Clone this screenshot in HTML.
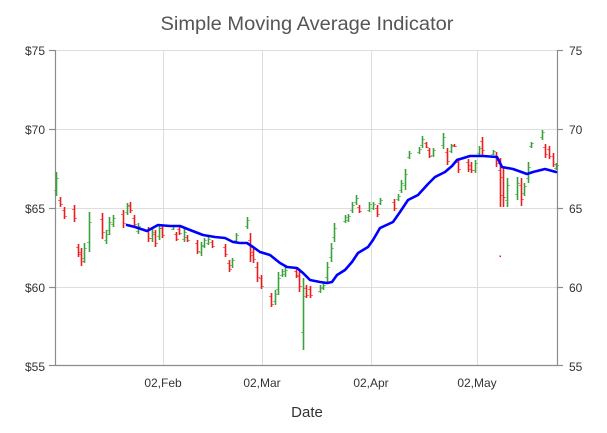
<!DOCTYPE html>
<html>
<head>
<meta charset="utf-8">
<style>
html,body{margin:0;padding:0;background:#fff;}
svg{display:block;}
text{font-family:"Liberation Sans",Arial,sans-serif;}
</style>
</head>
<body>
<svg width="607" height="433" viewBox="0 0 607 433" xmlns="http://www.w3.org/2000/svg">
<rect width="607" height="433" fill="#fff"/>
<text x="307" y="30" font-size="19" fill="#555" text-anchor="middle" textLength="293" lengthAdjust="spacingAndGlyphs">Simple Moving Average Indicator</text>

<g stroke="#dedede" stroke-width="1">
<line x1="56" y1="50.5" x2="557" y2="50.5"/>
<line x1="56" y1="129.5" x2="557" y2="129.5"/>
<line x1="56" y1="208.5" x2="557" y2="208.5"/>
<line x1="56" y1="287.5" x2="557" y2="287.5"/>
<line x1="163.5" y1="50" x2="163.5" y2="366"/>
<line x1="262.5" y1="50" x2="262.5" y2="366"/>
<line x1="371.5" y1="50" x2="371.5" y2="366"/>
<line x1="477.5" y1="50" x2="477.5" y2="366"/>
</g>

<g stroke="#8c8c8c" stroke-width="1.2">
<line x1="55.5" y1="50" x2="55.5" y2="366"/>
<line x1="557.5" y1="50" x2="557.5" y2="366"/>
<line x1="55" y1="365.5" x2="558" y2="365.5"/>
<line x1="49" y1="50.5" x2="55" y2="50.5"/>
<line x1="49" y1="129.5" x2="55" y2="129.5"/>
<line x1="49" y1="208.5" x2="55" y2="208.5"/>
<line x1="49" y1="287.5" x2="55" y2="287.5"/>
<line x1="49" y1="365.5" x2="55" y2="365.5"/>
<line x1="558" y1="50.5" x2="563" y2="50.5"/>
<line x1="558" y1="129.5" x2="563" y2="129.5"/>
<line x1="558" y1="208.5" x2="563" y2="208.5"/>
<line x1="558" y1="287.5" x2="563" y2="287.5"/>
<line x1="558" y1="365.5" x2="563" y2="365.5"/>
</g>

<g font-size="12" fill="#333" text-anchor="end">
<text x="45" y="55">$75</text>
<text x="45" y="134">$70</text>
<text x="45" y="213">$65</text>
<text x="45" y="292">$60</text>
<text x="45" y="371">$55</text>
</g>
<g font-size="12" fill="#333" text-anchor="start">
<text x="569" y="55">75</text>
<text x="569" y="134">70</text>
<text x="569" y="213">65</text>
<text x="569" y="292">60</text>
<text x="569" y="371">55</text>
</g>

<g font-size="12" fill="#333" text-anchor="middle">
<text x="163" y="387">02,Feb</text>
<text x="262" y="387">02,Mar</text>
<text x="371" y="387">02,Apr</text>
<text x="477" y="387">02,May</text>
</g>
<text x="307" y="417" font-size="15" fill="#333" text-anchor="middle">Date</text>

<!-- green bars -->
<path fill="none" stroke="#3aa23a" stroke-width="1.6" d="M56.5 172V196M84.5 243V263M89.5 212V252M106.5 230V244M109.5 217V235M113.5 215V227M127.5 203V215M138.5 223V234M152.5 228V242M159.5 224V240M173.5 225V230M184.5 229V242M201.5 242V256M204.5 238V248M208.5 237V245M232.5 258V268M236.5 233V242M247.5 217V229M275.5 290V305M278.5 272V295M282.5 269V277M285.5 267V277M303.5 278V350M320.5 285V293M323.5 283V290M327.5 262V282M331.5 243V262M334.5 223V242M345.5 215V223M348.5 214V222M352.5 202V213M356.5 195V205M369.5 202V212M373.5 202V210M380.5 198V205M398.5 194V201M401.5 180V193M405.5 169V190M409.5 151V159M419.5 147V154M422.5 136V148M433.5 148V157M443.5 133V149M451.5 144V153M475.5 160V173M479.5 146V155M493.5 150V155M507.5 178V207M517.5 177V200M524.5 183V196M528.5 162V183M531.5 142V148M542.5 130V140M556.5 163V170"/>
<path fill="none" stroke="#3aa23a" stroke-opacity="0.6" stroke-width="1" d="M54 190.5H56.5M56.5 178.5H59M82 258.5H84.5M84.5 248.5H87M87 242.5H89.5M89.5 222.5H92M104 240.5H106.5M106.5 234.5H109M107 230.5H109.5M109.5 222.5H112M111 224.5H113.5M113.5 218.5H116M125 212.5H127.5M127.5 206.5H130M136 231.5H138.5M138.5 226.5H141M150 238.5H152.5M152.5 232.5H155M157 236.5H159.5M159.5 228.5H162M171 229.5H173.5M173.5 226.5H176M182 239.5H184.5M184.5 232.5H187M199 252.5H201.5M201.5 246.5H204M202 245.5H204.5M204.5 240.5H207M206 243.5H208.5M208.5 239.5H211M230 265.5H232.5M232.5 260.5H235M234 240.5H236.5M236.5 235.5H239M245 226.5H247.5M247.5 220.5H250M273 301.5H275.5M275.5 294.5H278M276 289.5H278.5M278.5 278.5H281M280 275.5H282.5M282.5 271.5H285M283 274.5H285.5M285.5 270.5H288M301 332.5H303.5M303.5 296.5H306M318 291.5H320.5M320.5 287.5H323M321 288.5H323.5M323.5 285.5H326M325 277.5H327.5M327.5 267.5H330M329 257.5H331.5M331.5 248.5H334M332 237.5H334.5M334.5 228.5H337M343 221.5H345.5M345.5 217.5H348M346 220.5H348.5M348.5 216.5H351M350 210.5H352.5M352.5 205.5H355M354 202.5H356.5M356.5 198.5H359M367 210.5H369.5M369.5 204.5H372M371 208.5H373.5M373.5 204.5H376M378 203.5H380.5M380.5 200.5H383M396 199.5H398.5M398.5 196.5H401M399 190.5H401.5M401.5 183.5H404M403 185.5H405.5M405.5 174.5H408M407 157.5H409.5M409.5 153.5H412M417 152.5H419.5M419.5 149.5H422M420 145.5H422.5M422.5 139.5H425M431 155.5H433.5M433.5 150.5H436M441 145.5H443.5M443.5 137.5H446M449 151.5H451.5M451.5 146.5H454M473 170.5H475.5M475.5 163.5H478M477 153.5H479.5M479.5 148.5H482M491 154.5H493.5M493.5 151.5H496M505 200.5H507.5M507.5 185.5H510M515 194.5H517.5M517.5 183.5H520M522 193.5H524.5M524.5 186.5H527M526 178.5H528.5M528.5 167.5H531M529 146.5H531.5M531.5 143.5H534M540 137.5H542.5M542.5 132.5H545M554 168.5H556.5M556.5 165.5H559"/>

<!-- red bars -->
<path fill="none" stroke="#ee1c1c" stroke-width="1.6" d="M60.5 197V207M64.5 207V219M74.5 205V222M78.5 244V257M81.5 248V266M102.5 213V239M123.5 210V228M130.5 202V213M134.5 215V227M148.5 227V242M155.5 230V247M162.5 225V238M176.5 232V241M179.5 227V235M187.5 235V242M197.5 240V254M212.5 240V248M225.5 244V257M229.5 260V272M250.5 233V262M253.5 248V263M257.5 262V282M261.5 275V289M271.5 293V307M296.5 269V278M299.5 270V292M306.5 285V298M310.5 286V298M359.5 205V213M377.5 205V217M394.5 199V211M426.5 142V148M429.5 148V158M447.5 148V165M454.5 144V147M458.5 158V173M468.5 159V172M471.5 162V173M482.5 137V155M496.5 152V167M500.5 158V207M503.5 167V207M521.5 178V206M545.5 144V158M549.5 146V159M553.5 153V167"/>
<path fill="none" stroke="#ee1c1c" stroke-opacity="0.6" stroke-width="1" d="M58 200.5H60.5M60.5 204.5H63M62 210.5H64.5M64.5 216.5H67M72 209.5H74.5M74.5 218.5H77M76 247.5H78.5M78.5 254.5H81M79 252.5H81.5M81.5 261.5H84M100 219.5H102.5M102.5 232.5H105M121 214.5H123.5M123.5 223.5H126M128 205.5H130.5M130.5 210.5H133M132 218.5H134.5M134.5 224.5H137M146 231.5H148.5M148.5 238.5H151M153 234.5H155.5M155.5 243.5H158M160 228.5H162.5M162.5 235.5H165M174 234.5H176.5M176.5 239.5H179M177 229.5H179.5M179.5 233.5H182M185 237.5H187.5M187.5 240.5H190M195 243.5H197.5M197.5 251.5H200M210 242.5H212.5M212.5 246.5H215M223 247.5H225.5M225.5 254.5H228M227 263.5H229.5M229.5 269.5H232M248 240.5H250.5M250.5 255.5H253M251 252.5H253.5M253.5 259.5H256M255 267.5H257.5M257.5 277.5H260M259 278.5H261.5M261.5 286.5H264M269 296.5H271.5M271.5 304.5H274M294 271.5H296.5M296.5 276.5H299M297 275.5H299.5M299.5 286.5H302M304 288.5H306.5M306.5 295.5H309M308 289.5H310.5M310.5 295.5H313M357 207.5H359.5M359.5 211.5H362M375 208.5H377.5M377.5 214.5H380M392 202.5H394.5M394.5 208.5H397M424 143.5H426.5M426.5 147.5H429M427 150.5H429.5M429.5 156.5H432M445 152.5H447.5M447.5 161.5H450M452 145.5H454.5M454.5 146.5H457M456 162.5H458.5M458.5 169.5H461M466 162.5H468.5M468.5 169.5H471M469 165.5H471.5M471.5 170.5H474M480 141.5H482.5M482.5 150.5H485M494 156.5H496.5M496.5 163.5H499M498 170.5H500.5M500.5 195.5H503M501 177.5H503.5M503.5 197.5H506M519 185.5H521.5M521.5 199.5H524M543 147.5H545.5M545.5 154.5H548M547 149.5H549.5M549.5 156.5H552M551 156.5H553.5M553.5 164.5H556"/>
<rect x="499.5" y="255.5" width="1.5" height="1.5" fill="#ee1c1c"/>

<!-- SMA -->
<polyline fill="none" stroke="#0000ff" stroke-width="2.6" stroke-linejoin="round" stroke-linecap="round"
points="127,225 135,227 147,231 158,225 170,226 180,226 190,230 203,235 215,237 225,238 233,242 240,243 247,243 253,247 260,252 270,255 280,263 287,267 297,268 303,273 310,280 320,282 327,283 332,282 337,275 345,270 352,262 358,253 368,247 373,240 380,228 393,222 400,212 408,200 418,195 428,184 435,177 445,172 452,166 457,160 470,156 483,156 497,157 502,167 513,169 527,174 533,172 545,169 556,172"/>
</svg>
</body>
</html>
